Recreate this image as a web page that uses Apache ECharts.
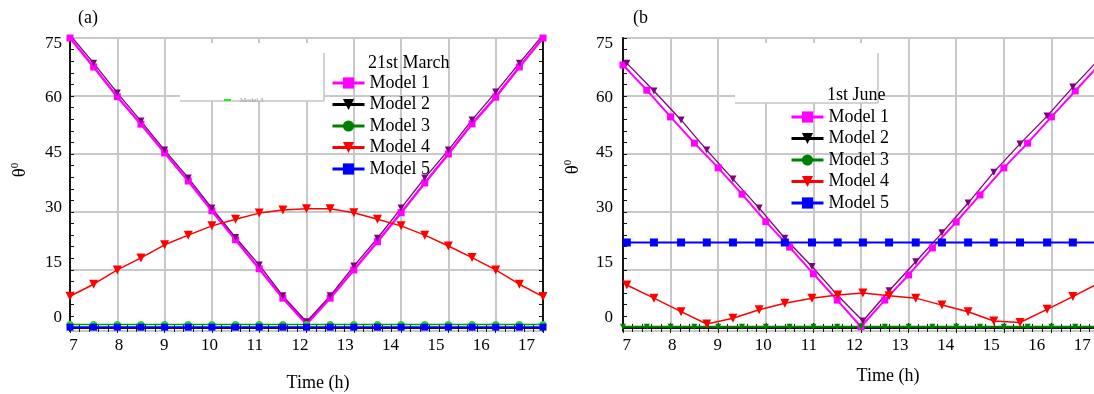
<!DOCTYPE html>
<html>
<head>
<meta charset="utf-8">
<script src="https://cdn.jsdelivr.net/npm/echarts@6.0.0/dist/echarts.min.js"></script>
<style>
  html, body { margin: 0; padding: 0; background: #fff; }
  #chart { width: 1094px; height: 394px; }
</style>
</head>
<body>
<div id="chart"></div>
<script>
// sun angle vs time of day, two dates, five models
const FONT = "'Liberation Serif', 'Times New Roman', serif"

// (a) 21st March, every half hour
const tA = [7, 7.5, 8, 8.5, 9, 9.5, 10, 10.5, 11, 11.5, 12, 12.5, 13, 13.5, 14, 14.5, 15, 15.5, 16, 16.5, 17]
const m1A = [75, 67.5, 59.8, 52.7, 45.3, 38.0, 30.3, 22.8, 15.3, 7.7, 1.0, 7.7, 15.0, 22.3, 29.8, 37.5, 45.0, 52.8, 59.7, 67.5, 75]
const m2A = [75.8, 68.5, 60.8, 53.5, 46.0, 38.8, 31.0, 23.4, 16.3, 8.3, 1.6, 8.3, 16.0, 23.2, 31.0, 38.8, 46.0, 53.8, 61.0, 68.5, 75.8]
const m3A = [0.9, 0.9, 0.9, 0.9, 0.9, 0.9, 0.9, 0.9, 0.9, 0.9, 0.9, 0.9, 0.9, 0.9, 0.9, 0.9, 0.9, 0.9, 0.9, 0.9, 0.9]
const m4A = [8.2, 11.3, 15.0, 18.1, 21.5, 24.0, 26.4, 28.1, 29.7, 30.5, 30.8, 30.8, 29.8, 28.1, 26.4, 24.0, 21.2, 18.2, 15.0, 11.3, 8.1]
const m5A = [0.2, 0.2, 0.2, 0.2, 0.2, 0.2, 0.2, 0.2, 0.2, 0.2, 0.2, 0.2, 0.2, 0.2, 0.2, 0.2, 0.2, 0.2, 0.2, 0.2, 0.2]

// (b) 1st June: models 1 and 3 every half hour, models 2, 4, 5 on their own steps
const tB1 = [7, 7.5, 8, 8.5, 9, 9.5, 10, 10.5, 11, 11.5, 12, 12.5, 13, 13.5, 14, 14.5, 15, 15.5, 16, 16.5, 17]
const tB2 = [7.08, 7.65, 8.22, 8.76, 9.31, 9.86, 10.40, 10.97, 11.51, 12.04, 12.59, 13.15, 13.70, 14.25, 14.79, 15.34, 15.91, 16.45, 17.0]
const m1B = [68, 61.5, 54.6, 47.8, 41.4, 34.6, 27.5, 20.9, 14.0, 7.2, 0.3, 7.2, 13.7, 20.7, 27.4, 34.4, 41.4, 47.8, 54.6, 61.3, 68]
const m2B = [68.5, 61.3, 53.8, 46.0, 38.5, 31.0, 23.2, 15.9, 8.4, 1.8, 9.6, 17.1, 24.6, 32.3, 40.3, 47.6, 54.8, 62.3, 69.5]
const m3B = [0.3, 0.3, 0.3, 0.3, 0.3, 0.3, 0.3, 0.3, 0.3, 0.3, 0.3, 0.3, 0.3, 0.3, 0.3, 0.3, 0.3, 0.3, 0.3, 0.3, 0.3]
const m4B = [11.1, 7.7, 4.2, 1.0, 2.5, 4.7, 6.4, 7.7, 8.5, 9.0, 8.3, 7.7, 5.9, 4.2, 1.8, 1.4, 4.8, 8.1, 11.6]
const m5B = [22.1, 22.1, 22.1, 22.1, 22.1, 22.1, 22.1, 22.1, 22.1, 22.1, 22.1, 22.1, 22.1, 22.1, 22.1, 22.1, 22.1, 22.1, 22.1]

// tick labels
const hourLabels = [7, 8, 9, 10, 11, 12, 13, 14, 15, 16, 17]
const angleLabels = [0, 15, 30, 45, 60, 75]
const angleMinor = [0, 3, 6, 9, 12, 15, 18, 21, 24, 27, 30, 33, 36, 39, 42, 45, 48, 51, 54, 57, 60, 63, 66, 69, 72, 75]
const names = ['Model 1', 'Model 2', 'Model 3', 'Model 4', 'Model 5']

function pts(t, v) {
  return t.map((x, i) => [x, v[i]])
}

const BLACK = '#151515'
const GRIDC = '#c8c8c8'

function xAxes(gi) {
  return [
    { // main
      type: 'value', gridIndex: gi, position: 'bottom', min: 7, max: 17, interval: 1,
      axisLine: { lineStyle: { color: BLACK, width: 2 } },
      axisTick: { inside: true, length: 5, lineStyle: { color: BLACK } },
      minorTick: { show: true, splitNumber: 5, length: 4, lineStyle: { color: BLACK } },
      splitLine: { show: true, lineStyle: { color: GRIDC, width: 2 } },
      axisLabel: { show: false },
    },
    { // top frame
      type: 'value', gridIndex: gi, position: 'top', min: 7, max: 17, interval: 1,
      axisLine: { lineStyle: { color: BLACK, width: 2 } },
      axisTick: { inside: true, length: 5, lineStyle: { color: BLACK } },
      minorTick: { show: true, splitNumber: 5, length: 4, lineStyle: { color: BLACK } },
      splitLine: { show: false },
      axisLabel: { show: false },
    },
    { // labels only
      type: 'value', gridIndex: gi, position: 'bottom', min: 6.92, max: 17.365,
      axisLine: { show: false }, axisTick: { show: false }, splitLine: { show: false },
      axisLabel: { customValues: hourLabels, margin: 6, color: '#000', fontSize: 17, fontFamily: FONT },
    },
  ]
}

function yAxes(gi, margin) {
  return [
    { // main
      type: 'value', gridIndex: gi, position: 'left', min: -0.8, max: 75, minInterval: 15, maxInterval: 15,
      axisLine: { show: true, lineStyle: { color: BLACK, width: 2 } },
      axisTick: { show: false },
      splitLine: { show: true, lineStyle: { color: GRIDC, width: 2 } },
      axisLabel: { show: false },
    },
    { // left ticks
      type: 'value', gridIndex: gi, position: 'left', min: -0.8, max: 75,
      axisLine: { show: false },
      axisTick: { show: true, inside: true, length: 4, customValues: angleMinor, lineStyle: { color: BLACK } },
      splitLine: { show: false },
      axisLabel: { show: false },
    },
    { // right frame
      type: 'value', gridIndex: gi, position: 'right', min: -0.8, max: 75,
      axisLine: { show: true, lineStyle: { color: BLACK, width: 2 } },
      axisTick: { show: true, inside: true, length: 4, customValues: angleMinor, lineStyle: { color: BLACK } },
      splitLine: { show: false },
      axisLabel: { show: false },
    },
    { // labels only
      type: 'value', gridIndex: gi, position: 'left', min: -3.7, max: 76.4,
      axisLine: { show: false }, axisTick: { show: false }, splitLine: { show: false },
      axisLabel: { customValues: angleLabels, margin: margin, color: '#000', fontSize: 17, fontFamily: FONT },
    },
  ]
}

function line(name, xi, yi, data, color, width, symbol, size, itemColor, rotate) {
  return {
    name: name, type: 'line', xAxisIndex: xi, yAxisIndex: yi, data: data,
    symbol: symbol, symbolSize: size, symbolRotate: rotate || 0, showAllSymbol: true,
    lineStyle: { color: color, width: width },
    itemStyle: { color: itemColor || color },
    clip: true, silent: true,
  }
}

function legendData() {
  return [
    { name: 'Model 1' },
    { name: 'Model 2', itemStyle: { color: '#000' }, lineStyle: { color: '#000' } },
    { name: 'Model 3', itemStyle: { color: '#008000' }, lineStyle: { color: '#008000' } },
    { name: 'Model 4' },
    { name: 'Model 5' },
  ]
}

function legend(left, top) {
  return {
    orient: 'vertical', left: left, top: top, padding: 0,
    itemWidth: 32, itemHeight: 14, itemGap: 1.5,
    selectedMode: false,
    lineStyle: { width: 3 },
    textStyle: { color: '#000', fontSize: 18, fontFamily: FONT, lineHeight: 20 },
    data: legendData(),
  }
}

function txt(x, y, s, extra) {
  return Object.assign({
    type: 'text', x: x, y: y, z: 5,
    style: { text: s, fill: '#000', fontSize: 18, fontFamily: FONT, verticalAlign: 'middle' },
  }, extra || {})
}

function theta(x, y) {
  return {
    type: 'text', x: x, y: y, rotation: Math.PI / 2, z: 5,
    style: {
      text: '{t|θ}{s|0}', align: 'center', verticalAlign: 'middle', fill: '#000',
      rich: {
        t: { fontSize: 19, fontFamily: FONT, fill: '#000' },
        s: { fontSize: 11, fontFamily: FONT, fill: '#000', padding: [0, 0, 9, 0] },
      },
    },
  }
}

function box(x, y, w, h) {
  return [
    { type: 'rect', z: 1, shape: { x: x, y: y, width: w, height: h }, style: { fill: '#fff' } },
    { type: 'line', z: 1, shape: { x1: x, y1: y + h, x2: x + w, y2: y + h }, style: { stroke: '#c4c4c4', lineWidth: 1.5 } },
    { type: 'line', z: 1, shape: { x1: x + w, y1: y + 10, x2: x + w, y2: y + h }, style: { stroke: '#c4c4c4', lineWidth: 1.5 } },
  ]
}

const option = {
  animation: false,
  backgroundColor: '#fff',
  grid: [
    { left: 70, top: 38, width: 473, height: 293, outerBoundsMode: 'none' },
    { left: 623, top: 38, width: 476, height: 293, outerBoundsMode: 'none' },
  ],
  xAxis: xAxes(0).concat(xAxes(1)),
  yAxis: yAxes(0, 8).concat(yAxes(1, 10)),
  legend: [legend(331, 73), legend(790, 107)],
  series: [
    line(names[0], 0, 0, pts(tA, m1A), '#ff00ff', 2.5, 'rect', 7),
    line(names[1], 0, 0, pts(tA, m2A), '#800080', 1.3, 'triangle', 7, null, 180),
    line(names[2], 0, 0, pts(tA, m3A), '#00a000', 1.5, 'circle', 7, '#22dd22'),
    line(names[3], 0, 0, pts(tA, m4A), '#ff0000', 1.5, 'triangle', 9, null, 180),
    line(names[4], 0, 0, pts(tA, m5A), '#0000ff', 2, 'rect', 7),

    line(names[0], 3, 4, pts(tB1, m1B), '#ff00ff', 2, 'rect', 7),
    line(names[1], 3, 4, pts(tB2, m2B), '#800080', 1.3, 'triangle', 7, null, 180),
    line(names[2], 3, 4, pts(tB1, m3B), '#008000', 2, 'triangle', 6, null, 180),
    line(names[3], 3, 4, pts(tB2, m4B), '#ff0000', 1.5, 'triangle', 9, null, 180),
    line(names[4], 3, 4, pts(tB2, m5B), '#0000ff', 2, 'rect', 8),
  ],
  graphic: [].concat(
    box(180, 43, 144, 58),
    box(735, 43, 143, 60),
    [
      { type: 'line', z: 2, shape: { x1: 224, y1: 100, x2: 231, y2: 100 }, style: { stroke: '#22ee22', lineWidth: 2 } },
      { type: 'text', x: 240, y: 100, z: 2, style: { text: 'Model 3', fill: '#999', fontSize: 7, fontFamily: FONT, verticalAlign: 'middle' } },
      txt(78, 18, '(a)'),
      txt(633, 18, '(b'),
      txt(368, 63, '21st March'),
      txt(827, 95, '1st June'),
      txt(318, 383, 'Time (h)', { style: { text: 'Time (h)', fill: '#000', fontSize: 18, fontFamily: FONT, align: 'center', verticalAlign: 'middle' } }),
      txt(888, 376, 'Time (h)', { style: { text: 'Time (h)', fill: '#000', fontSize: 18, fontFamily: FONT, align: 'center', verticalAlign: 'middle' } }),
      theta(20, 170),
      theta(573, 167),
    ]
  ),
}

const myChart = echarts.init(document.getElementById('chart'))
myChart.setOption(option, true)
</script>
</body>
</html>
